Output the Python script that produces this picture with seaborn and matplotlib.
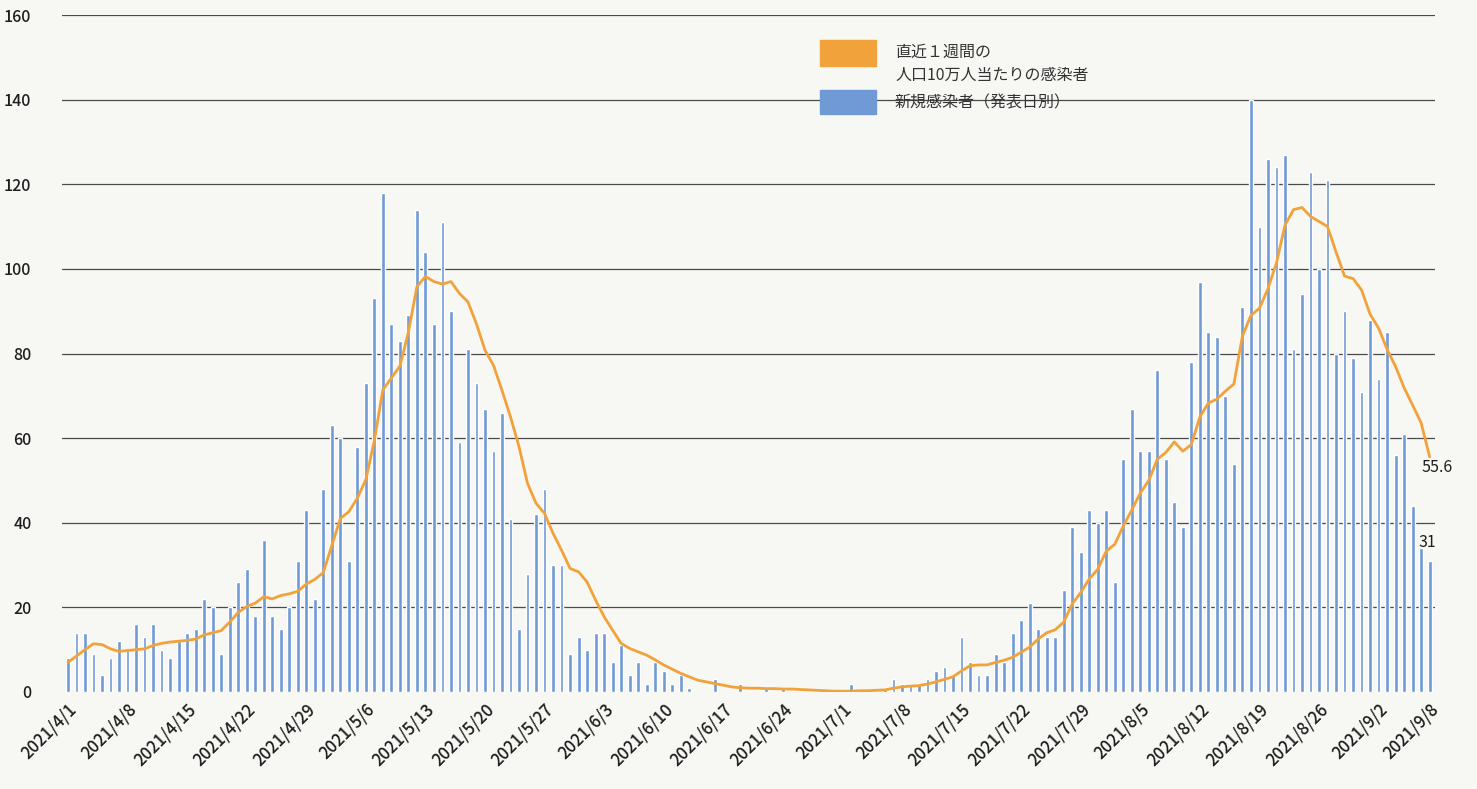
import numpy as np
import pandas as pd
import matplotlib
matplotlib.use("Agg")
import matplotlib.pyplot as plt
from matplotlib.patches import Rectangle
import seaborn as sns

start_date = "2021-04-01"
end_date = "2021-09-08"

# daily new cases (by announcement date)
new_cases = [
    8, 14, 14, 9, 4, 8, 12, 10, 16, 13, 16, 10, 8, 12, 14, 15, 22, 20, 9, 20,
    26, 29, 18, 36, 18, 15, 20, 31, 43, 22, 48, 63, 60, 31, 58, 73, 93, 118, 87, 83,
    89, 114, 104, 87, 111, 90, 59, 81, 73, 67, 57, 66, 41, 15, 28, 42, 48, 30, 30, 9,
    13, 10, 14, 14, 7, 11, 4, 7, 2, 7, 5, 2, 4, 1, 0, 0, 3, 0, 0, 2,
    0, 0, 1, 0, 1, 0, 0, 0, 0, 0, 0, 0, 2, 0, 0, 0, 1, 3, 2, 2,
    2, 3, 5, 6, 4, 13, 7, 4, 4, 9, 7, 14, 17, 21, 15, 13, 13, 24, 39, 33,
    43, 40, 43, 26, 55, 67, 57, 57, 76, 55, 45, 39, 78, 97, 85, 84, 70, 54, 91, 140,
    110, 126, 124, 127, 81, 94, 123, 100, 121, 80, 90, 79, 71, 88, 74, 85, 56, 61, 44, 34,
    31,
]

# cases per 100k over the last week
weekly_per_100k = [
    7.0, 8.5, 10.0, 11.4, 11.2, 10.2, 9.6, 9.8, 10.0, 10.2, 11.0, 11.5, 11.8, 12.0, 12.2, 12.5, 13.5, 14.0, 14.5, 16.5,
    18.8, 20.2, 21.0, 22.5, 22.0, 22.8, 23.2, 23.8, 25.5, 26.6, 28.2, 34.6, 41.0, 42.6, 45.8, 50.2, 59.4, 71.4, 74.2, 77.0,
    85.0, 95.8, 98.2, 97.0, 96.4, 97.0, 94.2, 92.2, 87.0, 80.8, 77.2, 71.3, 65.0, 58.0, 49.3, 44.6, 42.2, 37.5, 33.5, 29.2,
    28.4, 26.0, 21.7, 17.8, 14.6, 11.5, 10.3, 9.5, 8.7, 7.6, 6.4, 5.4, 4.4, 3.6, 2.8, 2.4, 2.0, 1.6, 1.2, 1.0,
    0.9, 0.9, 0.8, 0.8, 0.7, 0.7, 0.6, 0.5, 0.4, 0.3, 0.2, 0.2, 0.2, 0.3, 0.3, 0.4, 0.5, 0.9, 1.2, 1.4,
    1.5, 1.9, 2.4, 3.0, 3.6, 5.0, 6.2, 6.4, 6.4, 7.0, 7.5, 8.2, 9.4, 10.6, 12.5, 14.0, 14.7, 16.5, 20.8, 23.5,
    26.7, 29.0, 33.3, 34.9, 39.2, 43.0, 47.0, 50.0, 55.0, 56.6, 59.1, 56.9, 58.5, 65.0, 68.3, 69.2, 71.1, 72.8, 84.1, 89.0,
    90.7, 95.3, 101.4, 110.3, 114.0, 114.5, 112.4, 111.2, 110.0, 104.0, 98.3, 97.7, 95.0, 89.3, 86.0, 81.0, 76.9, 71.9, 67.8, 63.6,
    55.6,
]

y_ticks = [0, 20, 40, 60, 80, 100, 120, 140, 160]
line_label = "直近１週間の\n人口10万人当たりの感染者"
bar_label = "新規感染者（発表日別）"

dates = pd.date_range(start_date, end_date, freq="D")
df = pd.DataFrame({
    "day": np.arange(len(dates)),
    "label": [f"{d.year}/{d.month}/{d.day}" for d in dates],
    "cases": new_cases,
    "rate": weekly_per_100k,
})

bar_color = "#6f9ad5"
line_color = "#f2a23a"
bg = "#f7f7f4"
txt = "#1e1e1e"

sns.set_style("white")
plt.rcParams["font.family"] = ["Noto Sans CJK JP", "DejaVu Sans"]

fig = plt.figure(figsize=(14.77, 7.89), dpi=100, facecolor=bg)
ax = fig.add_axes([62 / 1477, 1 - 692 / 789, (1435 - 62) / 1477, (692 - 15) / 789])
ax.set_facecolor(bg)

for v in [20, 40, 60, 80, 100, 120, 140, 160]:
    ax.axhline(v, color="#4a4a4a", linewidth=0.9, zorder=0)

sns.barplot(data=df, x="day", y="cases", color=bar_color, width=0.45,
            saturation=1, ax=ax, native_scale=True, zorder=2)
sns.lineplot(data=df, x="day", y="rate", color=line_color, linewidth=2.0,
             ax=ax, zorder=3)

ax.set_xlim(-0.7, len(dates) - 0.37)
ax.set_ylim(0, 160)
ax.set_yticks(y_ticks)
ax.set_yticklabels([str(v) for v in y_ticks], fontsize=11.5, color=txt, fontweight="medium")

tick_pos = list(range(0, len(dates), 7))
if tick_pos[-1] != len(dates) - 1:
    tick_pos.append(len(dates) - 1)
ax.set_xticks(tick_pos)
ax.set_xticklabels(df["label"].iloc[tick_pos], rotation=45, ha="right",
                   rotation_mode="anchor", fontsize=12, color=txt, fontweight="medium")
ax.tick_params(axis="y", length=0, pad=22)
ax.tick_params(axis="x", length=0, pad=6)
ax.set_xlabel("")
ax.set_ylabel("")
sns.despine(ax=ax, left=True, bottom=True)

# end labels
last = len(dates) - 1
ax.annotate(f"{weekly_per_100k[-1]}", (last, weekly_per_100k[-1]), xytext=(-6, -8),
            textcoords="offset points", fontsize=11.5, color=txt, ha="left", va="center")
ax.annotate(f"{new_cases[-1]}", (last, new_cases[-1]), xytext=(-8, 13),
            textcoords="offset points", fontsize=11.5, color=txt, ha="left", va="center")

# legend drawn by hand
W, H = 1477, 789
fig.patches.append(Rectangle((820 / W, 1 - 66 / H), 56 / W, 26 / H,
                             transform=fig.transFigure, color=line_color, zorder=5))
fig.patches.append(Rectangle((820 / W, 1 - 114 / H), 56 / W, 24 / H,
                             transform=fig.transFigure, color=bar_color, zorder=5))
fig.text(895 / W, 1 - 64 / H, line_label, fontsize=11.5, color="#333333",
         va="center", ha="left", linespacing=1.45)
fig.text(895 / W, 1 - 103 / H, bar_label, fontsize=11.5, color="#333333",
         va="center", ha="left")

fig.savefig("out.png", dpi=100, facecolor=bg)
